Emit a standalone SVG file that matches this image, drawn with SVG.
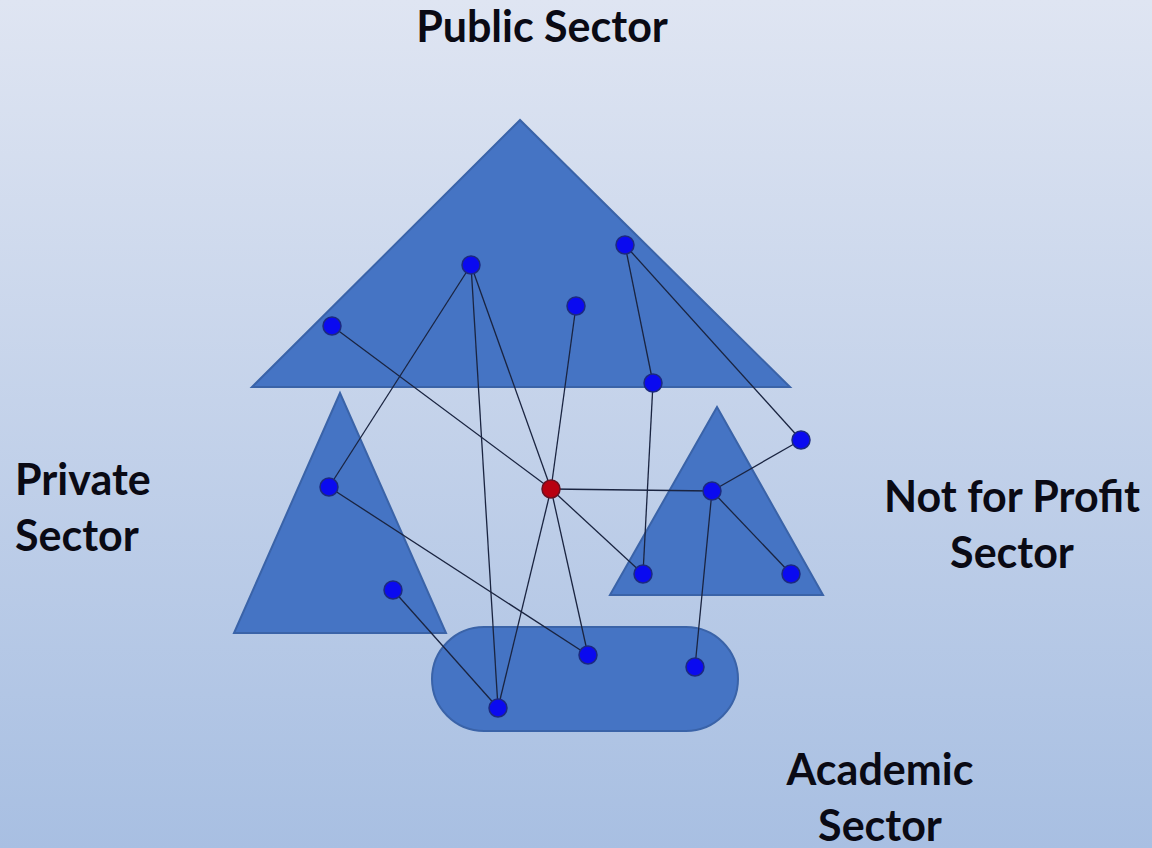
<svg xmlns="http://www.w3.org/2000/svg" width="1152" height="848" viewBox="0 0 1152 848">
<defs>
<linearGradient id="bg" x1="0" y1="0" x2="0" y2="1">
<stop offset="0" stop-color="#dfe5f2"/>
<stop offset="1" stop-color="#a8bfe2"/>
</linearGradient>
</defs>
<style>
.shape{fill:#4574c4;stroke:#3a63a8;stroke-width:2}
.edge{stroke:#1a2440;stroke-width:1.3;fill:none}
.node{fill:#0a0af0;stroke:#1c2a80;stroke-width:1.5}
.hub{fill:#b80010;stroke:#6a1020;stroke-width:1.5}
.lbl{font-family:Lato,"Open Sans","Liberation Sans",sans-serif;font-weight:bold;font-size:43px;fill:#0a0a14}
</style>
<rect width="1152" height="848" fill="url(#bg)"/>
<g id="public-sector"><polygon class="shape" points="520,120 252,387 790,387"/></g>
<g id="private-sector"><polygon class="shape" points="340,393 234,633 446,633"/></g>
<g id="nonprofit-sector"><polygon class="shape" points="717,407 610,595 823,595"/></g>
<g id="academic-sector"><rect class="shape" x="432" y="627" width="306" height="104" rx="52" ry="52"/></g>
<g id="connectors">
<line class="edge" x1="332" y1="326" x2="551" y2="489"/>
<line class="edge" x1="471" y1="265" x2="329" y2="487"/>
<line class="edge" x1="471" y1="265" x2="498" y2="708"/>
<line class="edge" x1="471" y1="265" x2="551" y2="489"/>
<line class="edge" x1="576" y1="306" x2="551" y2="489"/>
<line class="edge" x1="625" y1="245" x2="653" y2="383"/>
<line class="edge" x1="625" y1="245" x2="801" y2="440"/>
<line class="edge" x1="653" y1="383" x2="643" y2="574"/>
<line class="edge" x1="801" y1="440" x2="712" y2="491"/>
<line class="edge" x1="712" y1="491" x2="791" y2="574"/>
<line class="edge" x1="712" y1="491" x2="695" y2="667"/>
<line class="edge" x1="329" y1="487" x2="588" y2="655"/>
<line class="edge" x1="393" y1="590" x2="498" y2="708"/>
<line class="edge" x1="551" y1="489" x2="712" y2="491"/>
<line class="edge" x1="551" y1="489" x2="643" y2="574"/>
<line class="edge" x1="551" y1="489" x2="588" y2="655"/>
<line class="edge" x1="551" y1="489" x2="498" y2="708"/>
</g>
<g id="nodes">
<circle id="n1" class="node" cx="332" cy="326" r="9"/>
<circle id="n2" class="node" cx="471" cy="265" r="9"/>
<circle id="n3" class="node" cx="576" cy="306" r="9"/>
<circle id="n4" class="node" cx="625" cy="245" r="9"/>
<circle id="n5" class="node" cx="653" cy="383" r="9"/>
<circle id="n6" class="node" cx="801" cy="440" r="9"/>
<circle id="n7" class="node" cx="329" cy="487" r="9"/>
<circle id="n8" class="node" cx="393" cy="590" r="9"/>
<circle id="n9" class="node" cx="712" cy="491" r="9"/>
<circle id="n10" class="node" cx="643" cy="574" r="9"/>
<circle id="n11" class="node" cx="791" cy="574" r="9"/>
<circle id="n12" class="node" cx="588" cy="655" r="9"/>
<circle id="n13" class="node" cx="695" cy="667" r="9"/>
<circle id="n14" class="node" cx="498" cy="708" r="9"/>
<circle id="hub" class="hub" cx="551" cy="489" r="9"/>
</g>
<g id="labels">
<text class="lbl" x="542" y="42" text-anchor="middle">Public Sector</text>
<text class="lbl" x="15" y="495">Private</text>
<text class="lbl" x="15" y="551">Sector</text>
<text class="lbl" x="1012" y="512" text-anchor="middle">Not for Profit</text>
<text class="lbl" x="1012" y="568" text-anchor="middle">Sector</text>
<text class="lbl" x="880" y="785" text-anchor="middle">Academic</text>
<text class="lbl" x="880" y="841" text-anchor="middle">Sector</text>
</g>
</svg>
